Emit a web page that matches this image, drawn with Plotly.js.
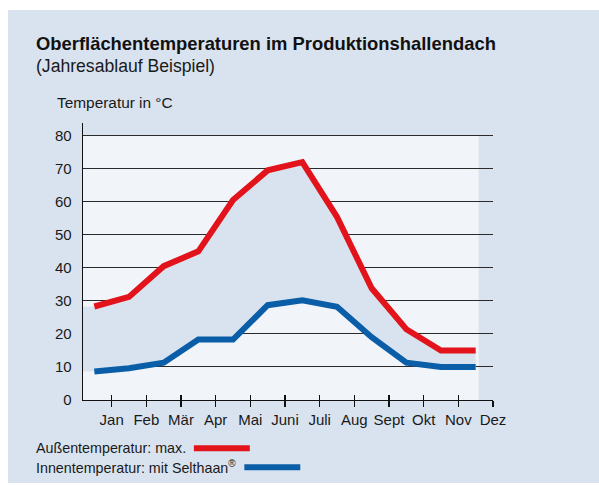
<!DOCTYPE html>
<html>
<head>
<meta charset="utf-8">
<script src="https://cdn.plot.ly/plotly-3.0.1.min.js"></script>
<style>
  html, body { margin: 0; padding: 0; background: #ffffff; width: 599px; height: 485px; overflow: hidden; }
  #chart { position: absolute; left: 8px; top: 10px; width: 591px; height: 473px; }
</style>
</head>
<body>
<div id="chart"></div>
<script>
// ---- data ----
const months = ['Jan', 'Feb', 'Mär', 'Apr', 'Mai', 'Juni', 'Juli', 'Aug', 'Sept', 'Okt', 'Nov', 'Dez'];
const aussenMax = [28.3, 31.2, 40.5, 45.0, 60.5, 69.5, 72.0, 55.4, 33.8, 21.4, 15.0, 15.0];
const innenSelthaan = [8.6, 9.6, 11.3, 18.3, 18.3, 28.7, 30.2, 28.2, 19.0, 11.3, 10.0, 10.0];
const yTicks = [0, 10, 20, 30, 40, 50, 60, 70, 80];

const titleText = 'Oberflächentemperaturen im Produktionshallendach';
const subtitleText = '(Jahresablauf Beispiel)';
const yTitleText = 'Temperatur in °C';
const legendRed = 'Außentemperatur: max.';
const legendBlue = 'Innentemperatur: mit Selthaan<sup>®</sup>';

// ---- styling ----
const RED = '#e2131b';
const BLUE = '#0a5ea8';
const BG = '#d9e3ef';
const PLOTBG = '#f1f5fa';
const TXT = '#1a1a1a';
const FONT = 'Liberation Sans, Arial, Helvetica, sans-serif';

const xPos = months.map((m, i) => i + 0.5);     // month centres
const tickPos = months.map((m, i) => i + 1);     // labels at month ends
const X0 = 0.173, X1 = 12.0;
const Y0 = 0, Y1 = 83.83;

// page-pixel -> paper helper for decorations (plot area in page px)
const PL = 83, PR = 493.4, PT = 122.7, PB = 400;
const px = x => (x - PL) / (PR - PL);
const py = y => (PB - y) / (PB - PT);

const fillX = [X0].concat(xPos);
const traces = [
  { x: fillX, y: [innenSelthaan[0]].concat(innenSelthaan), mode: 'lines', line: { width: 0 }, hoverinfo: 'skip', showlegend: false },
  { x: fillX, y: [aussenMax[0]].concat(aussenMax), mode: 'lines', line: { width: 0 }, fill: 'tonexty', fillcolor: BG, hoverinfo: 'skip', showlegend: false },
  { x: xPos, y: aussenMax, mode: 'lines', line: { color: RED, width: 6 }, name: legendRed, showlegend: false },
  { x: xPos, y: innenSelthaan, mode: 'lines', line: { color: BLUE, width: 6 }, name: legendBlue, showlegend: false },
  { x: tickPos, y: tickPos.map(() => null), xaxis: 'x2', mode: 'lines', showlegend: false, hoverinfo: 'skip' }
];

const layout = {
  width: 591, height: 473,
  margin: { l: PL - 8, r: 591 - (PR - 8), t: PT - 10, b: 473 - (PB - 10), pad: 0 },
  paper_bgcolor: BG,
  plot_bgcolor: 'rgba(0,0,0,0)',
  font: { family: FONT, color: TXT, size: 15 },
  showlegend: false,
  xaxis: {
    range: [X0, X1], tickmode: 'array', tickvals: tickPos, ticktext: months,
    ticks: 'outside', ticklen: 6, tickwidth: 1.3, tickcolor: '#111',
    showgrid: false, zeroline: false, showline: true, linecolor: '#111', linewidth: 1.3,
    tickfont: { size: 15, color: TXT }, fixedrange: true
  },
  xaxis2: {
    overlaying: 'x', matches: 'x', range: [X0, X1], tickmode: 'array', tickvals: tickPos,
    ticks: 'inside', ticklen: 5, tickwidth: 1.3, tickcolor: '#111', showticklabels: false,
    showgrid: false, zeroline: false, showline: false, side: 'bottom', anchor: 'y'
  },
  yaxis: {
    range: [Y0, Y1], tickmode: 'array', tickvals: yTicks,
    ticks: '', ticklabelstandoff: 7,
    showgrid: true, gridcolor: '#2a2a2a', gridwidth: 1,
    zeroline: false, showline: true, linecolor: '#111', linewidth: 1.3,
    tickfont: { size: 15, color: TXT }, fixedrange: true
  },
  shapes: [
    { type: 'rect', layer: 'below', xref: 'x', yref: 'y', x0: X0, x1: xPos[xPos.length - 1] + 0.085, y0: 0, y1: 80,
      fillcolor: PLOTBG, line: { width: 0 } },
    { type: 'line', xref: 'paper', yref: 'paper', x0: px(194), x1: px(250), y0: py(448.3), y1: py(448.3),
      line: { color: RED, width: 6 } },
    { type: 'line', xref: 'paper', yref: 'paper', x0: px(244.5), x1: px(300.5), y0: py(467.3), y1: py(467.3),
      line: { color: BLUE, width: 6 } }
  ],
  annotations: [
    { text: '<b>' + titleText + '</b>', xref: 'paper', yref: 'paper', x: px(34), y: py(43), xanchor: 'left', yanchor: 'middle',
      showarrow: false, font: { size: 18.4, color: '#111' } },
    { text: subtitleText, xref: 'paper', yref: 'paper', x: px(34), y: py(65.5), xanchor: 'left', yanchor: 'middle',
      showarrow: false, font: { size: 17.6, color: TXT } },
    { text: yTitleText, xref: 'paper', yref: 'paper', x: px(55), y: py(102), xanchor: 'left', yanchor: 'middle',
      showarrow: false, font: { size: 15.4, color: TXT } },
    { text: legendRed, xref: 'paper', yref: 'paper', x: px(34), y: py(448), xanchor: 'left', yanchor: 'middle',
      showarrow: false, font: { size: 14.3, color: TXT } },
    { text: legendBlue, xref: 'paper', yref: 'paper', x: px(34), y: py(467), xanchor: 'left', yanchor: 'middle',
      showarrow: false, font: { size: 14.3, color: TXT } }
  ]
};

Plotly.newPlot('chart', traces, layout, { displayModeBar: false, staticPlot: true });
</script>
</body>
</html>
